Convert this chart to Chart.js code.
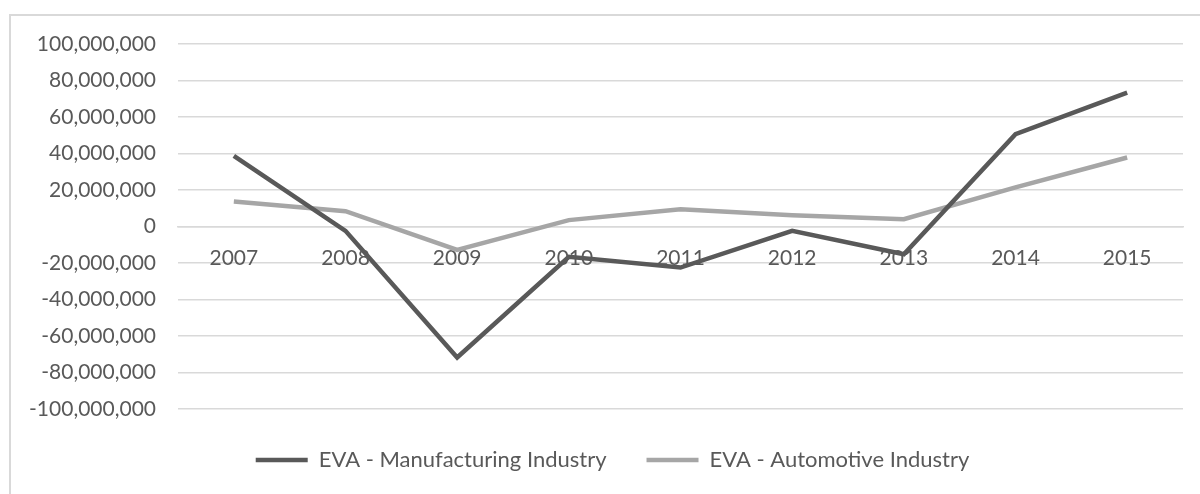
<!DOCTYPE html>
<html>
<head>
<meta charset="utf-8">
<script src="https://cdn.jsdelivr.net/npm/chart.js@4/dist/chart.umd.min.js"></script>
<style>
  html, body { margin: 0; padding: 0; background: #fff; }
  #wrap { position: relative; width: 1200px; height: 494px; }
  #frame {
    position: absolute; left: 9px; top: 14px; right: 0; bottom: 0;
    border-top: 2px solid #d9d9d9; border-left: 2px solid #d9d9d9;
    pointer-events: none;
  }
</style>
</head>
<body>
<div id="wrap">
  <canvas id="graficoEva" width="1200" height="494"></canvas>
  <div id="frame"></div>
</div>
<script>
const anos = ["2007", "2008", "2009", "2010", "2011", "2012", "2013", "2014", "2015"];
const evaManufatura = [38700000, -2400000, -71800000, -16600000, -22500000, -2400000, -15200000, 50600000, 73400000];
const evaAutomotiva = [13700000, 8400000, -12800000, 3500000, 9500000, 6200000, 4000000, 21400000, 37800000];
const eixoY = { min: -100000000, max: 100000000, passo: 20000000 };

const fonte = "Lato, 'Open Sans', sans-serif";
const cinzaTexto = "#595959";

// empurra a legenda um pouco para a direita depois do layout
const deslocaLegenda = {
    id: "deslocaLegenda",
    afterLayout(chart) {
        chart.legend.left += 42;
    }
};

const ctx = document.getElementById("graficoEva").getContext("2d");
new Chart(ctx, {
    type: "line",
    data: {
        labels: anos,
        datasets: [{
            label: "EVA - Manufacturing Industry",
            data: evaManufatura,
            borderColor: "#595959",
            backgroundColor: "#595959",
            borderWidth: 4.5,
            pointRadius: 0,
            tension: 0
        }, {
            label: "EVA - Automotive Industry",
            data: evaAutomotiva,
            borderColor: "#a6a6a6",
            backgroundColor: "#a6a6a6",
            borderWidth: 4.5,
            pointRadius: 0,
            tension: 0
        }]
    },
    options: {
        responsive: false,
        animation: false,
        layout: { padding: { left: 0, right: 17, top: 44, bottom: 13 } },
        plugins: {
            legend: {
                position: "bottom",
                maxHeight: 72,
                labels: {
                    usePointStyle: true,
                    pointStyle: "line",
                    pointStyleWidth: 52,
                    padding: 40,
                    color: cinzaTexto,
                    font: { family: fonte, size: 22 }
                }
            },
            tooltip: { enabled: false }
        },
        scales: {
            y: {
                min: eixoY.min,
                max: eixoY.max,
                afterFit: scale => { scale.width = 178; },
                ticks: {
                    stepSize: eixoY.passo,
                    padding: 22,
                    color: cinzaTexto,
                    font: { family: fonte, size: 21 },
                    callback: v => v.toLocaleString("en-US")
                },
                grid: { color: "#d9d9d9", lineWidth: 1.5, drawTicks: false },
                border: { display: false }
            },
            x: {
                position: { y: 0 },
                offset: true,
                ticks: {
                    padding: 19,
                    color: cinzaTexto,
                    font: { family: fonte, size: 21 }
                },
                grid: { display: false, drawTicks: false, offset: true },
                border: { color: "#d9d9d9", width: 1.5 }
            }
        }
    },
    plugins: [deslocaLegenda]
});
</script>
</body>
</html>
